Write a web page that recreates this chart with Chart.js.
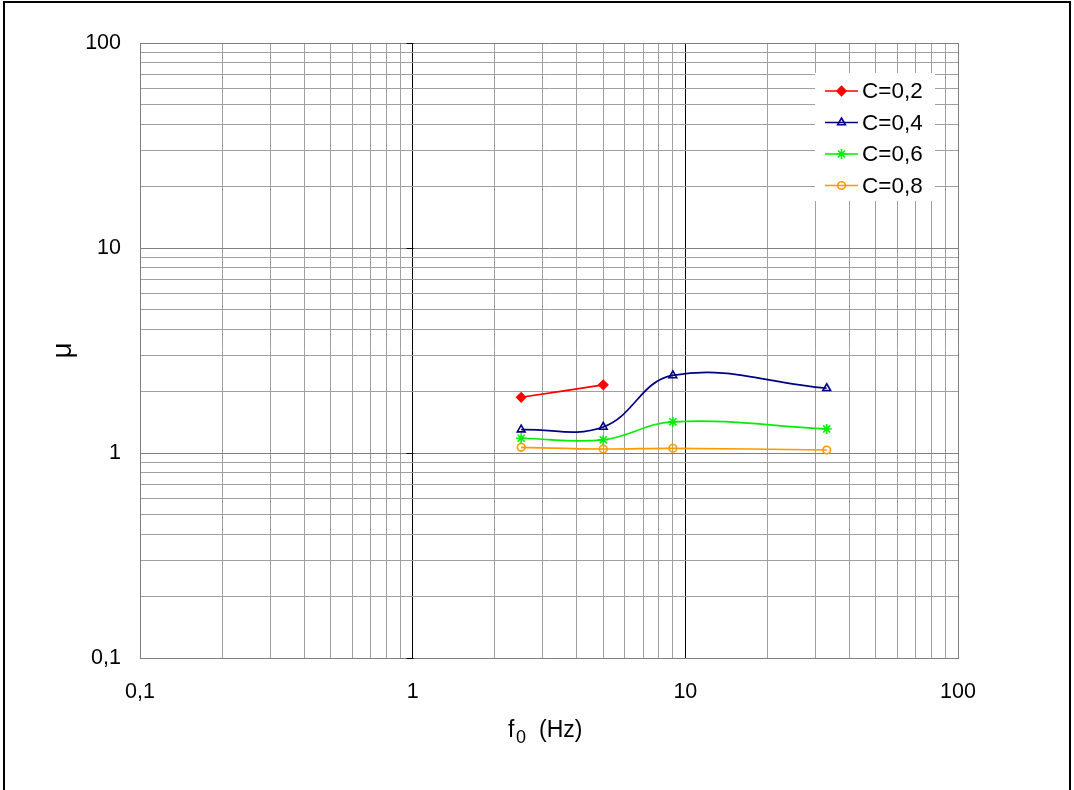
<!DOCTYPE html>
<html lang="en">
<head>
    <meta charset="UTF-8">
    <title>μ vs f0</title>
    <script src="https://cdn.jsdelivr.net/npm/chart.js"></script>
    <style>
        html, body { margin: 0; padding: 0; background: #fff; }
        canvas { display: block; }
    </style>
</head>
<body>
    <canvas id="myChart" width="1074" height="790"></canvas>

    <script>
        // measured points: frequency f0 (Hz) and μ for each C
        const freqC02 = [2.5, 5];
        const muC02 = [1.87, 2.15];
        const freqC04 = [2.5, 5, 9, 33];
        const muC04 = [1.30, 1.34, 2.39, 2.07];
        const freqC06 = [2.5, 5, 9, 33];
        const muC06 = [1.18, 1.16, 1.42, 1.31];
        const freqC08 = [2.5, 5, 9, 33];
        const muC08 = [1.066, 1.046, 1.054, 1.034];

        const seriesLabels = ['C=0,2', 'C=0,4', 'C=0,6', 'C=0,8'];

        // decade ticks of both log axes
        const xDecades = [0.1, 1, 10, 100];
        const xTickLabels = ['0,1', '1', '10', '100'];
        const yDecades = [0.1, 1, 10, 100];
        const yTickLabels = ['0,1', '1', '10', '100'];

        const FONT = "'Liberation Sans', Arial, sans-serif";

        function toPoints(xs, ys) {
            return xs.map((x, i) => ({ x: x, y: ys[i] }));
        }

        // 1..9 per decade for the grid
        function logTicks(decades) {
            const out = [];
            for (let d = 0; d < decades.length - 1; d++) {
                for (let k = 1; k < 10; k++) out.push(+(decades[d] * k).toPrecision(6));
            }
            out.push(decades[decades.length - 1]);
            return out;
        }

        function isDecade(v, decades) {
            return decades.some(d => Math.abs(d - v) < 1e-9);
        }

        const frameAndTitles = {
            id: 'frameAndTitles',
            afterDraw(chart) {
                const ctx = chart.ctx;
                const area = chart.chartArea;
                const xs = chart.scales.x;
                const ys = chart.scales.y;
                ctx.save();

                // outer frame
                ctx.strokeStyle = '#000';
                ctx.lineWidth = 2;
                ctx.strokeRect(4, 2, 1066, 820);

                // value axis crossing at f0 = 1, ticks to the left
                const ax = Math.round(xs.getPixelForValue(1)) + 0.5;
                ctx.lineWidth = 1;
                ctx.beginPath();
                yDecades.forEach(v => {
                    const py = Math.round(ys.getPixelForValue(v)) + 0.5;
                    ctx.moveTo(ax - 7, py);
                    ctx.lineTo(ax, py);
                });
                ctx.stroke();

                // axis titles
                ctx.fillStyle = '#000';
                ctx.textBaseline = 'alphabetic';
                ctx.textAlign = 'left';
                const cx = (area.left + area.right) / 2;
                ctx.font = '23px ' + FONT;
                ctx.fillText('f', cx - 41, 737);
                ctx.font = '18px ' + FONT;
                ctx.fillText('0', cx - 33, 743);
                ctx.font = '23px ' + FONT;
                ctx.fillText('(Hz)', cx - 10, 737);

                ctx.translate(63, (area.top + area.bottom) / 2);
                ctx.rotate(-Math.PI / 2);
                ctx.textAlign = 'center';
                ctx.textBaseline = 'middle';
                ctx.font = '28px ' + FONT;
                ctx.fillText('μ', 0, 0);
                ctx.restore();

                // legend box inside the plot
                ctx.save();
                const lx = 815, ly = 73, lw = 120, lh = 128;
                ctx.fillStyle = '#fff';
                ctx.fillRect(lx, ly, lw, lh);
                ctx.font = '22.5px ' + FONT;
                ctx.textBaseline = 'middle';
                ctx.textAlign = 'left';
                chart.data.datasets.forEach((ds, i) => {
                    const rowY = 91 + i * 31.5;
                    ctx.strokeStyle = ds.borderColor;
                    ctx.lineWidth = ds.borderWidth;
                    ctx.beginPath();
                    ctx.moveTo(825, rowY);
                    ctx.lineTo(858, rowY);
                    ctx.stroke();
                    ctx.fillStyle = ds.pointBackgroundColor;
                    ctx.strokeStyle = ds.borderColor;
                    ctx.lineWidth = ds.pointBorderWidth;
                    Chart.helpers.drawPoint(ctx, {
                        pointStyle: ds.pointStyle,
                        radius: ds.pointRadius,
                        borderWidth: ds.pointBorderWidth,
                        rotation: 0
                    }, 841.5, rowY);
                    ctx.fillStyle = '#000';
                    ctx.fillText(ds.label, 862, rowY + 1);
                });
                ctx.restore();
            }
        };

        function makeSet(label, xs, ys, color, style, fill, radius) {
            return {
                label: label,
                data: toPoints(xs, ys),
                showLine: true,
                borderColor: color,
                backgroundColor: color,
                borderWidth: 1.7,
                tension: 0.4,
                pointStyle: style,
                pointRadius: radius,
                pointHoverRadius: radius,
                pointBackgroundColor: fill,
                pointBorderColor: color,
                pointBorderWidth: 1.6
            };
        }

        const ctx = document.getElementById('myChart').getContext('2d');
        const chart = new Chart(ctx, {
            type: 'scatter',
            data: {
                datasets: [
                    makeSet(seriesLabels[0], freqC02, muC02, '#ff0000', 'rectRot', '#ff0000', 4.5),
                    makeSet(seriesLabels[1], freqC04, muC04, '#000080', 'triangle', 'rgba(255,255,255,0)', 4.5),
                    makeSet(seriesLabels[2], freqC06, muC06, '#00ee00', 'star', 'rgba(255,255,255,0)', 5),
                    makeSet(seriesLabels[3], freqC08, muC08, '#ff9900', 'circle', 'rgba(255,255,255,0)', 3.8)
                ]
            },
            options: {
                responsive: false,
                animation: false,
                devicePixelRatio: 1,
                layout: { padding: { top: 43, right: 116, left: 0, bottom: 0 } },
                plugins: {
                    legend: { display: false },
                    tooltip: { enabled: false }
                },
                scales: {
                    x: {
                        type: 'logarithmic',
                        min: 0.1,
                        max: 100,
                        afterBuildTicks: scale => {
                            scale.ticks = logTicks(xDecades).map(v => ({ value: v }));
                        },
                        afterFit: scale => { scale.height = 132; },
                        border: { color: '#808080', width: 1 },
                        grid: {
                            drawTicks: false,
                            lineWidth: 1,
                            color: c => {
                                const v = c.tick.value;
                                if (v === 1 || v === 10) return '#000000';
                                if (isDecade(v, xDecades)) return '#808080';
                                return '#a0a0a0';
                            }
                        },
                        ticks: {
                            autoSkip: false,
                            maxRotation: 0,
                            padding: 21,
                            color: '#000',
                            font: { family: FONT, size: 21.5 },
                            callback: v => {
                                const i = xDecades.findIndex(d => Math.abs(d - v) < 1e-9);
                                return i >= 0 ? xTickLabels[i] : '';
                            }
                        }
                    },
                    y: {
                        type: 'logarithmic',
                        min: 0.1,
                        max: 100,
                        afterBuildTicks: scale => {
                            scale.ticks = logTicks(yDecades).map(v => ({ value: v }));
                        },
                        afterFit: scale => { scale.width = 140; },
                        border: { color: '#808080', width: 1 },
                        grid: {
                            drawTicks: false,
                            lineWidth: 1,
                            color: c => isDecade(c.tick.value, yDecades) ? '#808080' : '#a0a0a0'
                        },
                        ticks: {
                            autoSkip: false,
                            padding: 19,
                            color: '#000',
                            font: { family: FONT, size: 21.5 },
                            callback: v => {
                                const i = yDecades.findIndex(d => Math.abs(d - v) < 1e-9);
                                return i >= 0 ? yTickLabels[i] : '';
                            }
                        }
                    }
                }
            },
            plugins: [frameAndTitles]
        });
    </script>
</body>
</html>
